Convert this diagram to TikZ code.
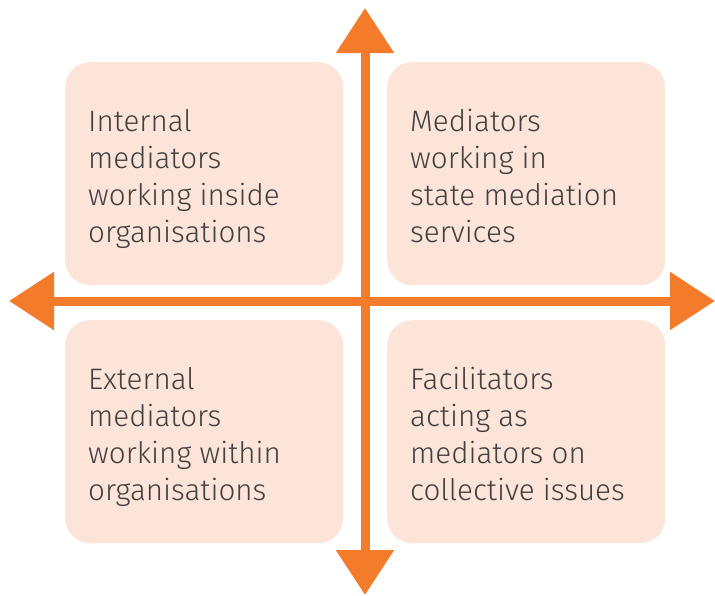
\documentclass[tikz,border=0pt]{standalone}
\usepackage{fontspec}
\setmainfont{Fira Sans}[UprightFont=* Light]
\usepackage{tikz}
\usetikzlibrary{arrows.meta}
\definecolor{axisorange}{RGB}{244,123,42}
\definecolor{boxpeach}{RGB}{253,228,216}
\definecolor{textgrey}{RGB}{64,64,64}

\begin{document}
\begin{tikzpicture}[x=1pt, y=-1pt,
    quad/.style={fill=boxpeach, rounded corners=25pt, minimum width=278pt, minimum height=223pt, inner sep=0pt, anchor=north west},
    label/.style={anchor=base west, align=left, inner sep=0pt, text=textgrey, font=\fontsize{29.6}{37}\selectfont},
    axis/.style={axisorange, line width=9pt, {Triangle[length=45pt,width=56pt]}-{Triangle[length=45pt,width=56pt]}}]
            \useasboundingbox (0,0) rectangle (715,595);
            \node [quad] (tl) at (65, 62) {};
            \node [quad] (tr) at (387, 62) {};
            \node [quad] (bl) at (65, 320) {};
            \node [quad] (br) at (387, 320) {};
            % base of a multi-line label is its last line
            \node [label] at ([shift={(23,180)}]tl.north west) {Internal\\mediators\\working inside\\organisations};
            \node [label] at ([shift={(23,180)}]tr.north west) {Mediators\\working in\\state mediation\\services};
            \node [label] at ([shift={(23,180)}]bl.north west) {External\\mediators\\working within\\organisations};
            \node [label] at ([shift={(23,180)}]br.north west) {Facilitators\\acting as\\mediators on\\collective issues};
            \coordinate (top) at (365, 8);
            \coordinate (bottom) at (365, 595);
            \coordinate (left) at (9, 301);
            \coordinate (right) at (715, 301);
            \draw [axis] (bottom) -- (top);
            \draw [axis] (left) -- (right);
\end{tikzpicture}
\end{document}
